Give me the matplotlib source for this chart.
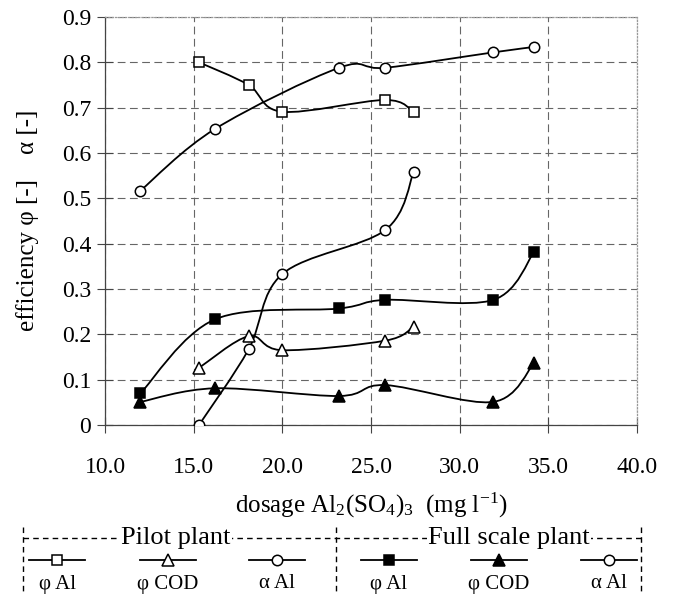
import numpy as np
import matplotlib
matplotlib.use('Agg')
import matplotlib.pyplot as plt
from matplotlib.path import Path
from matplotlib.patches import PathPatch
from matplotlib.lines import Line2D

plt.rcParams['font.family'] = ['Liberation Serif', 'DejaVu Serif']
plt.rcParams['mathtext.fontset'] = 'custom'
plt.rcParams['mathtext.rm'] = 'Liberation Serif'
plt.rcParams['mathtext.it'] = 'Liberation Serif:italic'

## data
# pilot plant
pilot_x = [15.3, 18.1, 20.0, 25.8, 27.4]
pilot_phi_al = [0.800, 0.750, 0.691, 0.717, 0.690]
pilot_phi_cod = [0.126, 0.196, 0.165, 0.186, 0.217]
pilot_alpha_al = [0.0, 0.167, 0.333, 0.430, 0.557]

# full scale plant
full_x = [12.0, 16.2, 23.2, 25.8, 31.9, 34.2]
full_phi_al = [0.070, 0.233, 0.257, 0.276, 0.276, 0.382]
full_phi_cod = [0.051, 0.081, 0.064, 0.088, 0.051, 0.137]
full_alpha_al = [0.517, 0.653, 0.788, 0.788, 0.822, 0.834]

xticks = [10.0, 15.0, 20.0, 25.0, 30.0, 35.0, 40.0]
yticks = [0, 0.1, 0.2, 0.3, 0.4, 0.5, 0.6, 0.7, 0.8, 0.9]
ytick_labels = ['0', '0.1', '0.2', '0.3', '0.4', '0.5', '0.6', '0.7', '0.8', '0.9']

# (marker, facecolor, label)
series = [
    (pilot_x, pilot_phi_al, 's', 'white', 'φ Al'),
    (pilot_x, pilot_phi_cod, '^', 'white', 'φ COD'),
    (pilot_x, pilot_alpha_al, 'o', 'white', 'α Al'),
    (full_x, full_phi_al, 's', 'black', 'φ Al'),
    (full_x, full_phi_cod, '^', 'black', 'φ COD'),
    (full_x, full_alpha_al, 'o', 'white', 'α Al'),
]
msize = {'s': 7, '^': 8, 'o': 7.5}


def smooth_path(x, y):
    # excel-like smoothed line: catmull-rom as cubic bezier segments
    pts = np.column_stack([x, y]).astype(float)
    n = len(pts)
    verts = [pts[0]]
    codes = [Path.MOVETO]
    for i in range(n - 1):
        p0 = pts[max(i - 1, 0)]
        p1 = pts[i]
        p2 = pts[i + 1]
        p3 = pts[min(i + 2, n - 1)]
        verts += [p1 + (p2 - p0) / 6, p2 - (p3 - p1) / 6, p2]
        codes += [Path.CURVE4] * 3
    return Path(verts, codes)


W, H = 674, 598
fig = plt.figure(figsize=(W / 100, H / 100), dpi=100)
ax = fig.add_axes([105 / W, 1 - 425 / H, 532 / W, 408 / H])

for x, y, m, fc, lab in series:
    ax.add_patch(PathPatch(smooth_path(x, y), fill=False, ec='black', lw=1.3, zorder=3))
    ax.plot(x, y, ls='none', marker=m, mfc=fc, mec='black', mew=1.1, ms=msize[m], zorder=4)

ax.set_xlim(10, 40)
ax.set_ylim(0, 0.9)
ax.set_xticks(xticks)
ax.set_xticklabels(['%.1f' % t for t in xticks])
ax.set_yticks(yticks)
ax.set_yticklabels(ytick_labels)
ax.tick_params(direction='inout', length=12, width=0.8, color='#444444', labelsize=17)
ax.tick_params(axis='x', pad=17)
ax.tick_params(axis='y', pad=4)
ax.grid(True, color='#666666', ls=(0, (7, 4)), lw=0.8)
for s in ['left', 'bottom']:
    ax.spines[s].set_color('#444444')
    ax.spines[s].set_linewidth(0.9)
for s in ['top', 'right']:
    ax.spines[s].set_color('#999999')
    ax.spines[s].set_linestyle(':')
    ax.spines[s].set_linewidth(0.9)

fig.text(28 / W, 1 - 220 / H, 'efficiency φ [-]    α [-]', rotation=90,
         ha='center', va='center', fontsize=18)
fig.text(371 / W, 1 - 505 / H, r'dosage Al$_2$(SO$_4$)$_3$  (mg l$^{-1}$)',
         ha='center', va='center', fontsize=18)

## custom legend box below the axes
def fx(px):
    return px / W


def fy(py):
    return 1 - py / H


dash = (0, (4, 3))
for xv in [23, 336, 641]:
    fig.add_artist(Line2D([fx(xv), fx(xv)], [fy(527), fy(593)], color='black',
                          lw=1.0, ls=dash))
fig.add_artist(Line2D([fx(23), fx(641)], [fy(538), fy(538)], color='black', lw=1.0, ls=dash))
fig.text(fx(176), fy(538), 'Pilot plant', ha='center', va='center', fontsize=19,
         bbox=dict(fc='white', ec='none', pad=1))
fig.text(fx(509), fy(538), 'Full scale plant', ha='center', va='center', fontsize=19,
         bbox=dict(fc='white', ec='none', pad=1))

centers = [57, 168, 277, 389, 499, 609]
for (x, y, m, fc, lab), c in zip(series, centers):
    fig.add_artist(Line2D([fx(c - 28), fx(c), fx(c + 28)], [fy(560)] * 3, color='black',
                          lw=1.3, marker=m, mfc=fc, mec='black', mew=1.1,
                          ms=msize[m], markevery=[1]))
    fig.text(fx(c), fy(584), lab, ha='center', va='center', fontsize=15)

plt.savefig('out.png', dpi=100)
